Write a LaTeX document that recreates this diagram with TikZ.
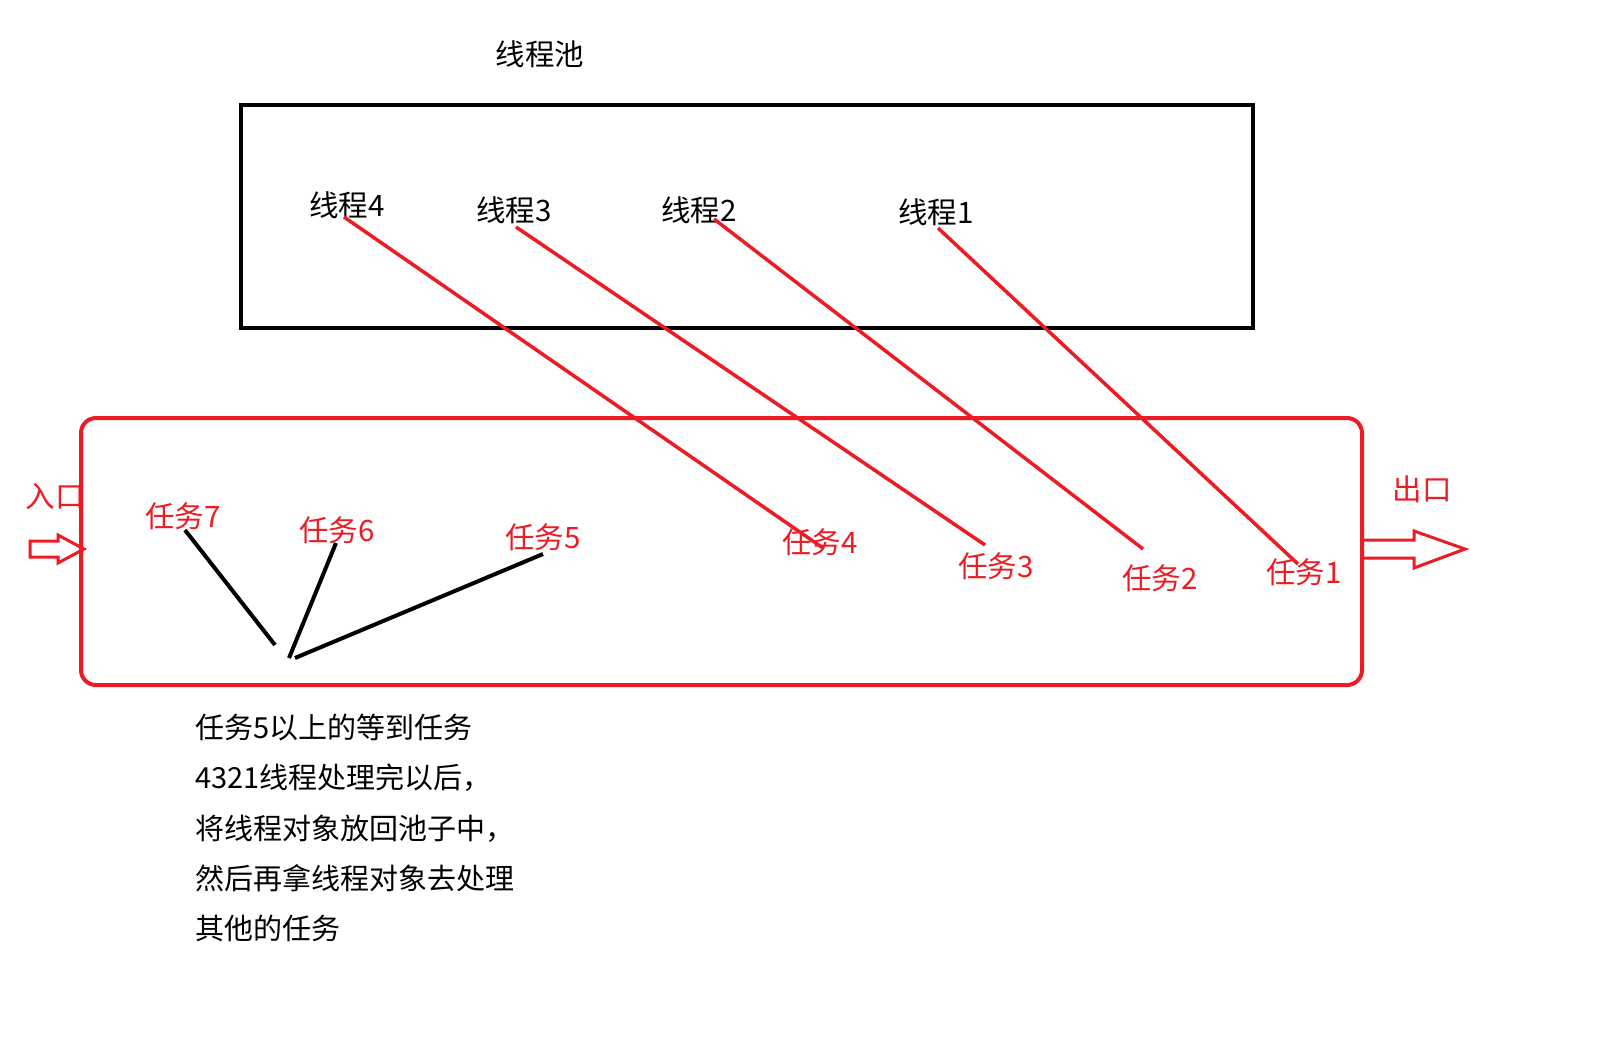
\documentclass[tikz,border=0pt]{standalone}
\usepackage{fontspec}
\newfontfamily\cjk{Noto Sans CJK SC}
\definecolor{pred}{HTML}{ED1C24}
\begin{document}
\begin{tikzpicture}[x=1pt,y=-1pt,
  lbl/.style={font=\cjk\fontsize{29.5}{34}\selectfont, inner sep=0pt},
  tlbl/.style={lbl, text=pred},
  rline/.style={draw=pred, line width=3.5pt},
  bline/.style={draw=black, line width=4pt},
  harrow/.style={draw=pred, line width=3pt, line join=miter}]
\useasboundingbox[fill=white] (0,0) rectangle (1622,1053);
% boxes
\draw[line width=4pt] (241,105) rectangle (1253,328);
\draw[draw=pred, line width=4pt, rounded corners=15pt] (81,418) rectangle (1362,685);
% title
\node[lbl] (title) at (540,54) {线程池};
% threads
\node[lbl] (t4) at (347,205) {线程4};
\node[lbl] (t3) at (514,210) {线程3};
\node[lbl] (t2) at (699,210) {线程2};
\node[lbl] (t1) at (936,212) {线程1};
% tasks
\node[tlbl] (k7) at (183,516) {任务7};
\node[tlbl] (k6) at (337,530) {任务6};
\node[tlbl] (k5) at (543,537) {任务5};
\node[tlbl] (k4) at (820,542) {任务4};
\node[tlbl] (k3) at (996,566) {任务3};
\node[tlbl] (k2) at (1160,578) {任务2};
\node[tlbl] (k1) at (1304,572) {任务1};
\node[tlbl] (in) at (55,496) {入口};
\node[tlbl] (out) at (1422,489) {出口};
% coordinates for connector ends
\coordinate (a4) at (344,217); \coordinate (b4) at (823,548);
\coordinate (a3) at (516,227); \coordinate (b3) at (985,545);
\coordinate (a2) at (714,219); \coordinate (b2) at (1143,549);
\coordinate (a1) at (938,228); \coordinate (b1) at (1298,564);
\draw[rline] (a4) -- (b4);
\draw[rline] (a3) -- (b3);
\draw[rline] (a2) -- (b2);
\draw[rline] (a1) -- (b1);
\coordinate (c7) at (185,530); \coordinate (d7) at (275,645);
\coordinate (c6) at (336,543); \coordinate (d6) at (289,658);
\coordinate (c5) at (543,554); \coordinate (d5) at (295,658);
\draw[bline] (c7) -- (d7);
\draw[bline] (c6) -- (d6);
\draw[bline] (c5) -- (d5);
% arrows
\draw[harrow] (30,541) -- (58,541) -- (58,535) -- (84,549) -- (58,563) -- (58,557) -- (30,557) -- cycle;
\draw[harrow] (1363,540) -- (1414,540) -- (1414,531) -- (1465,549) -- (1414,568) -- (1414,558) -- (1363,558);
% note
\node[font=\cjk\fontsize{29}{50.25}\selectfont, align=left, anchor=west, inner sep=0pt] (note) at (195,828) {任务5以上的等到任务\\4321线程处理完以后，\\将线程对象放回池子中，\\然后再拿线程对象去处理\\其他的任务};
\end{tikzpicture}
\end{document}
